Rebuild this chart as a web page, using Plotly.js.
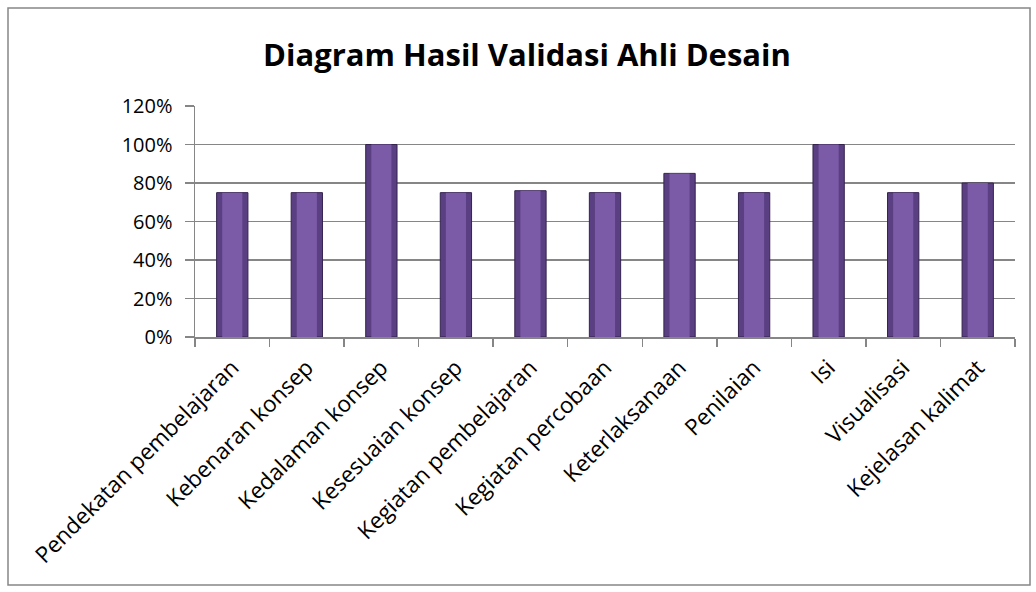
<!DOCTYPE html>
<html><head><meta charset="utf-8">
<script src="https://cdn.plot.ly/plotly-3.0.1.min.js"></script>
<style>body{margin:0;background:#fff}#chart{width:1036px;height:592px}</style>
</head><body><div id="chart"></div>
<script>
const categories = ["Pendekatan pembelajaran","Kebenaran konsep","Kedalaman konsep","Kesesuaian konsep","Kegiatan pembelajaran","Kegiatan percobaan","Keterlaksanaan","Penilaian","Isi","Visualisasi","Kejelasan kalimat"];
const values = [0.75,0.75,1.00,0.75,0.76,0.75,0.85,0.75,1.00,0.75,0.80];
const yTicks = [0,0.2,0.4,0.6,0.8,1.0,1.2];
const yTickLabels = ["0%","20%","40%","60%","80%","100%","120%"];

const W=1036,H=592,L=195,R=21,T=106,B=255;
const pw=W-L-R, ph=H-T-B;
function px(x){return (x-L)/pw;}
function py(y){return (H-B-y)/ph;}

const data=[
 {type:'bar', x:categories, y:values, width:0.42,
  marker:{color:'#5a3f82', line:{color:'#35234f', width:1}}, hoverinfo:'x+y'},
 {type:'bar', x:categories, y:values, width:0.27,
  marker:{color:'#7b5aa8', line:{width:0}}, hoverinfo:'skip'}
];
const layout={
  width:W,height:H,
  margin:{l:L,r:R,t:T,b:B},
  paper_bgcolor:'#fff',plot_bgcolor:'#fff',
  barmode:'overlay',
  showlegend:false,
  font:{family:'Open Sans, sans-serif',color:'#000'},
  title:{text:'<b>Diagram Hasil Validasi Ahli Desain</b>',font:{size:31,family:'Open Sans, sans-serif',color:'#000'},x:527/W,xanchor:'center',y:1-55/H,yanchor:'middle'},
  xaxis:{type:'category',tickangle:-45,tickfont:{size:22.5},showline:true,linecolor:'#868686',linewidth:1.5,
    ticks:'outside',ticklen:8,tickcolor:'#868686',tickwidth:1.5,tickson:'boundaries',ticklabelstandoff:7,showgrid:false,fixedrange:true},
  yaxis:{range:[0,1.2],tickvals:yTicks,ticktext:yTickLabels,tickfont:{size:20},showline:true,linecolor:'#868686',linewidth:1.5,
    ticks:'outside',ticklen:9,tickcolor:'#868686',tickwidth:1.5,ticklabelstandoff:8,showgrid:true,gridcolor:'#868686',gridwidth:1.5,zeroline:false,fixedrange:true},
  shapes:[{type:'rect',xref:'paper',yref:'paper',x0:px(8),x1:px(1030),y0:py(8),y1:py(585),line:{color:'#868686',width:1.5},fillcolor:'rgba(0,0,0,0)'}]
};
Plotly.newPlot('chart',data,layout,{displayModeBar:false,staticPlot:true});
</script></body></html>
